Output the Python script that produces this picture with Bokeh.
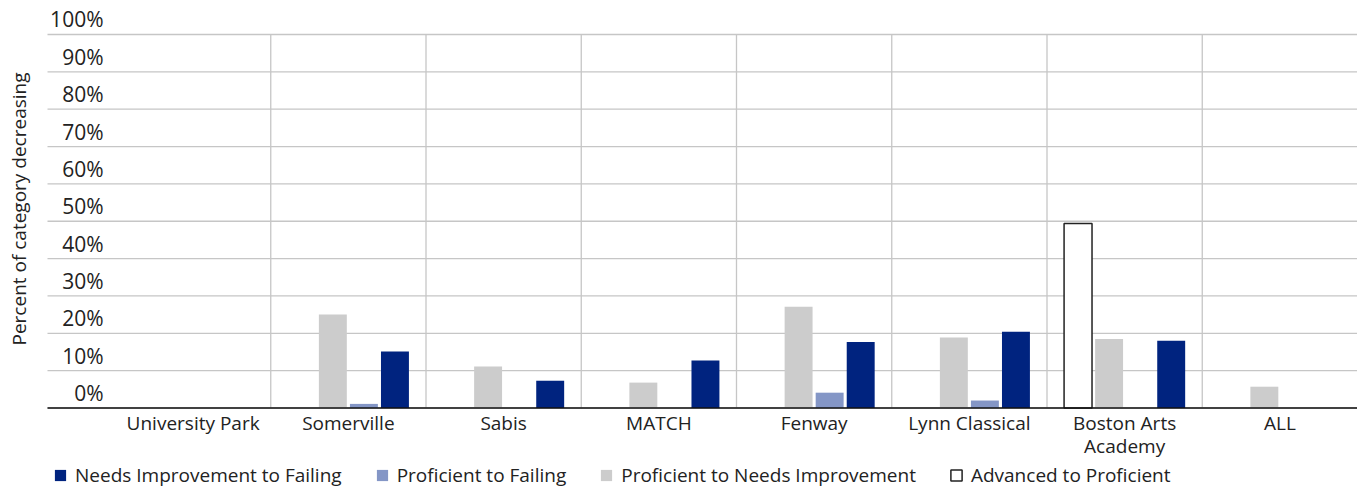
import math
from bokeh.plotting import figure
from bokeh.models import (Range1d, Legend, LegendItem, ColumnDataSource,
                          CDSView, BooleanFilter)
from bokeh.transform import dodge
from bokeh.core.properties import value
from bokeh.embed import file_html
from bokeh.resources import INLINE

# ---------------- data ----------------
categories = ["University Park", "Somerville", "Sabis", "MATCH", "Fenway",
              "Lynn Classical", "Boston Arts\nAcademy", "ALL"]
advanced_to_proficient = [0, 0, 0, 0, 0, 0, 49.4, 0]
proficient_to_needs_improvement = [0, 25.0, 11.1, 6.8, 27.1, 18.9, 18.5, 5.7]
proficient_to_failing = [0, 1.1, 0, 0, 4.1, 2.0, 0, 0]
needs_improvement_to_failing = [0, 15.1, 7.3, 12.7, 17.7, 20.4, 18.0, 0]
series_names = ["Advanced to Proficient", "Proficient to Needs Improvement",
                "Proficient to Failing", "Needs Improvement to Failing"]
y_ticks = [0, 10, 20, 30, 40, 50, 60, 70, 80, 90, 100]
y_tick_labels = ["0%", "10%", "20%", "30%", "40%", "50%", "60%", "70%", "80%", "90%", "100%"]
y_title = "Percent of category decreasing"

# ---------------- styles ----------------
FONT = "Open Sans"
TEXT_COLOR = "#222222"
GRID_COLOR = "#c6c6c6"
colors = {"Advanced to Proficient": "#ffffff",
          "Proficient to Needs Improvement": "#cccccc",
          "Proficient to Failing": "#8496c6",
          "Needs Improvement to Failing": "#00237f"}
n = len(categories)
xs = list(range(n))
src = ColumnDataSource(dict(
    x=xs,
    a=advanced_to_proficient,
    b=proficient_to_needs_improvement,
    c=proficient_to_failing,
    d=needs_improvement_to_failing,
))

# layout (pixels): plot area starts 47px in; categories start 68px further in
W, H = 1357, 489
band_px = (W - 47) / (n + 0.438)
grid_left = -0.5 - 0.438                 # where gridlines / baseline start
x_lo = grid_left - 47 / band_px          # left edge of the figure
x_hi = n - 0.5

p = figure(width=W, height=H, output_backend="svg", toolbar_location=None,
           x_range=Range1d(x_lo, x_hi), y_range=Range1d(-21.82, 107.76),
           x_axis_location=None, y_axis_location=None,
           min_border_left=0, min_border_right=0, min_border_top=5, min_border_bottom=0)
p.outline_line_color = None
p.background_fill_color = "white"
p.border_fill_color = "white"
p.grid.visible = False

# horizontal gridlines
m = len(y_ticks)
p.segment(x0=[grid_left] * m, x1=[x_hi] * m, y0=y_ticks, y1=y_ticks,
          line_color=GRID_COLOR, line_width=1.3)

# vertical separators between groups (0..100)
seps = [i + 0.5 for i in range(n - 1)]
p.segment(x0=seps, x1=seps, y0=[y_ticks[0]] * len(seps), y1=[y_ticks[-1]] * len(seps),
          line_color=GRID_COLOR, line_width=1.3)

# bars
step = 0.2
width = 0.18
keys = ["a", "b", "c", "d"]
values_by_key = {"a": advanced_to_proficient, "b": proficient_to_needs_improvement,
                 "c": proficient_to_failing, "d": needs_improvement_to_failing}
renderers = {}
for k, (key, name) in enumerate(zip(keys, series_names)):
    off = (k - 1.5) * step
    view = CDSView(filter=BooleanFilter([v > 0 for v in values_by_key[key]]))
    if name == "Advanced to Proficient":
        r = p.vbar(x=dodge("x", off, range=p.x_range), top=key, width=width, source=src,
                   view=view, fill_color=colors[name], line_color="#222222", line_width=1.5)
    else:
        r = p.vbar(x=dodge("x", off, range=p.x_range), top=key, width=width, source=src,
                   view=view, fill_color=colors[name], line_color=None)
    renderers[name] = r

# baseline
p.segment(x0=[grid_left], x1=[x_hi], y0=[y_ticks[0]], y1=[y_ticks[0]],
          line_color="#111111", line_width=1.5)

# y tick labels inside the plot area, above gridlines
p.text(x=[grid_left] * m, y=y_ticks, text=y_tick_labels,
       x_offset=56, y_offset=-1, text_align="right", text_baseline="bottom",
       text_font=value(FONT), text_font_size="21px", text_color=TEXT_COLOR)

# category labels below the baseline
p.text(x=xs, y=[y_ticks[0]] * n, text=categories, x_offset=0, y_offset=2,
       text_align="center", text_baseline="top", text_line_height=0.9,
       text_font=value(FONT), text_font_size="19px", text_color=TEXT_COLOR)

# y title (rotated), its top end aligned a little below the 100% line
p.text(x=[x_lo], y=[y_ticks[-1]], text=[y_title], angle=math.pi / 2,
       x_offset=18, y_offset=38, text_align="right", text_baseline="middle",
       text_font=value(FONT), text_font_size="19px", text_color=TEXT_COLOR)

# legend
legend_order = ["Needs Improvement to Failing", "Proficient to Failing",
                "Proficient to Needs Improvement", "Advanced to Proficient"]
legend = Legend(items=[LegendItem(label=nm, renderers=[renderers[nm]]) for nm in legend_order],
                orientation="horizontal", location=(53, 1),
                label_text_font=FONT, label_text_font_size="19px", label_text_color=TEXT_COLOR,
                glyph_width=14, glyph_height=14, label_standoff=8, spacing=33,
                padding=0, margin=0, border_line_color=None, background_fill_alpha=0)
p.add_layout(legend)

open("out.html", "w").write(file_html(p, INLINE))
